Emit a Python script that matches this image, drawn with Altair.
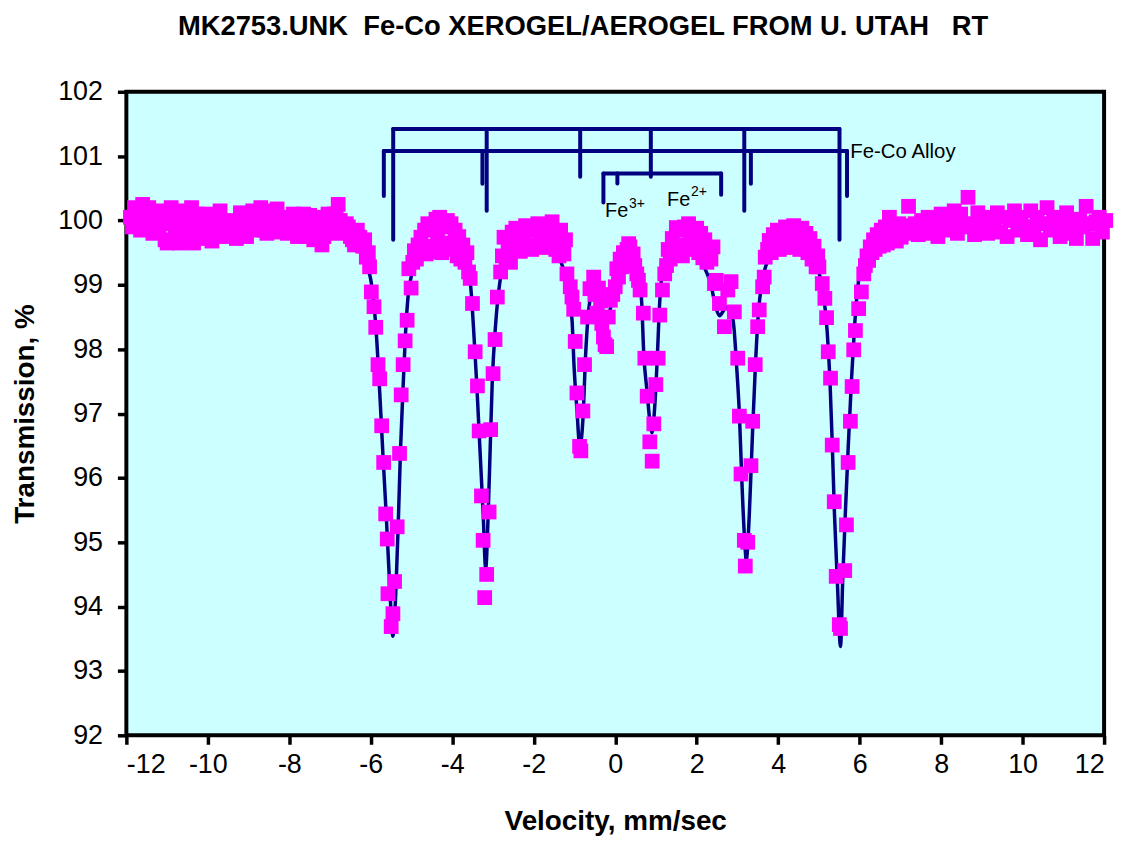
import altair as alt
import pandas as pd

# ---------------- measured data points (velocity mm/s, transmission %) ----------------
wing_left_v = [-11.9, -11.8, -11.7, -11.6, -11.5, -11.4, -11.3, -11.2, -11.1, -11.0,
               -10.9, -10.8, -10.7, -10.6, -10.5, -10.4, -10.3, -10.2, -10.1, -10.0,
               -9.9, -9.8, -9.7, -9.6, -9.5, -9.4, -9.3, -9.2, -9.1, -9.0,
               -8.9, -8.8, -8.7, -8.6, -8.5, -8.4, -8.3, -8.2, -8.1, -8.0,
               -7.9, -7.8, -7.7, -7.6, -7.5, -7.4, -7.3, -7.2, -7.1, -7.0,
               -6.9, -6.8, -6.7, -6.6, -6.5, -6.4]
wing_left_t = [100.05, 100.2, 99.95, 100.25, 100.1, 99.9, 100.0, 99.85, 100.15, 99.65,
               100.2, 99.85, 99.65, 100.05, 99.7, 100.2, 99.9, 100.0, 99.8, 100.1,
               99.68, 99.95, 100.15, 99.78, 99.9, 100.0, 99.72, 100.12, 99.8, 99.95,
               100.15, 99.9, 100.2, 99.85, 100.1, 99.95, 100.18, 99.82, 100.05, 99.9,
               100.1, 99.75, 100.0, 99.85, 100.08, 99.7, 99.95, 99.62, 100.0, 99.8,
               100.1, 100.25, 99.9, 99.95, 99.75, 99.62]

wing_left2_v = [-11.85, -11.75, -11.65, -11.55, -11.45, -11.35, -11.25, -11.15, -11.05, -10.95,
                -10.85, -10.75, -10.65, -10.55, -10.45, -10.35, -10.25, -10.15, -10.05, -9.95,
                -9.85, -9.75, -9.65, -9.55, -9.45, -9.35, -9.25, -9.15, -9.05, -8.95,
                -8.85, -8.75, -8.65, -8.55, -8.45, -8.35, -8.25, -8.15, -8.05, -7.95,
                -7.85, -7.75, -7.65, -7.55, -7.45, -7.35, -7.25, -7.15, -7.05, -6.95,
                -6.85, -6.75, -6.65, -6.55, -6.45]
wing_left2_t = [99.9, 100.1, 99.85, 100.0, 100.2, 99.8, 100.1, 99.95, 99.7, 99.95,
                100.1, 99.7, 99.9, 100.15, 99.85, 99.65, 100.1, 99.95, 99.72, 100.0,
                99.85, 99.75, 100.0, 99.95, 99.75, 99.9, 99.85, 100.0, 99.75, 99.88,
                100.05, 99.85, 100.0, 99.8, 100.15, 99.85, 100.0, 99.9, 99.8, 99.95,
                100.05, 99.85, 100.1, 99.75, 99.9, 100.05, 99.8, 99.75, 100.1, 99.85,
                100.1, 100.0, 99.8, 99.9, 99.7]

dip1_v = [-6.33, -6.27, -6.2, -6.15, -6.11, -6.06, -6.03, -5.987, -5.921, -5.879, -5.823,
          -5.782, -5.733, -5.684, -5.635, -5.596, -5.579, -5.499, -5.457,
          -5.416, -5.352, -5.294, -5.254, -5.206, -5.157, -5.108, -5.066, -5.010]
dip1_t = [99.85, 99.74, 99.6, 99.7, 99.43, 99.5, 99.28, 98.89, 98.66, 98.34, 97.76,
          97.54, 96.81, 96.24, 95.44, 95.05, 94.20, 93.69, 93.89,
          94.39, 95.24, 96.38, 97.29, 97.76, 98.13, 98.45, 99.25, 98.95]

hump12_v = [-4.97, -4.93, -4.88, -4.84, -4.80, -4.77, -4.72, -4.68, -4.64, -4.60, -4.55,
            -4.50, -4.45, -4.40, -4.36, -4.31, -4.26, -4.21, -4.16, -4.12, -4.07, -4.03,
            -3.98, -3.93, -3.88, -3.84, -3.79, -3.74, -3.69, -3.64, -3.60, -3.56]
hump12_t = [99.35, 99.53, 99.40, 99.62, 99.50, 99.74, 99.55, 99.85, 99.48, 99.95, 99.60,
            99.90, 99.52, 100.02, 99.75, 100.05, 99.50, 99.90, 99.65, 100.0, 99.55, 99.95,
            99.60, 99.85, 99.45, 99.75, 99.40, 99.62, 99.35, 99.50, 99.20, 99.10]

dip2_v = [-3.504, -3.438, -3.382, -3.340, -3.284, -3.243, -3.204, -3.155, -3.096, -3.057,
          -2.999, -2.950, -2.894, -2.813]
dip2_t = [98.71, 97.96, 97.43, 96.73, 95.72, 95.03, 94.14, 94.50, 95.47, 96.75,
          97.62, 98.15, 98.81, 99.20]

hump23_v = [-2.77, -2.73, -2.68, -2.63, -2.57, -2.53, -2.49, -2.44, -2.39, -2.33, -2.29,
            -2.24, -2.20, -2.15, -2.10, -2.05, -2.00, -1.95, -1.90, -1.85, -1.80, -1.75,
            -1.70, -1.65, -1.60, -1.55, -1.51, -1.46, -1.42, -1.38, -1.34, -1.30, -1.26, -1.22]
hump23_t = [99.45, 99.74, 99.40, 99.65, 99.35, 99.82, 99.55, 99.88, 99.60, 99.52, 99.85,
            99.70, 99.92, 99.60, 99.85, 99.55, 99.90, 99.62, 99.95, 99.70, 99.88, 99.58,
            99.80, 99.92, 99.70, 99.98, 99.80, 99.55, 99.75, 99.45, 99.85, 99.60, 99.48, 99.70]

dip3_v = [-1.185, -1.104, -1.062, -1.02, -0.982, -0.940, -0.875, -0.843, -0.794, -0.753, -0.679]
dip3_t = [99.17, 98.97, 98.81, 98.62, 98.12, 97.32, 96.49, 96.42, 97.04, 97.76, 98.50]

center_v = [-0.62, -0.53, -0.50, -0.45, -0.41, -0.36, -0.33, -0.29, -0.25, -0.21, -0.17,
            -0.12, -0.06, 0.0, 0.04, 0.08, 0.12, 0.16, 0.20, 0.24, 0.29, 0.33, 0.36, 0.40,
            0.44, 0.48, 0.53, 0.57, 0.61]
center_t = [98.94, 99.12, 98.85, 98.56, 98.95, 98.75, 98.40, 98.19, 98.07, 98.04, 98.50,
            98.76, 98.85, 98.97, 99.25, 99.12, 99.40, 99.28, 99.50, 99.48, 99.55, 99.64, 99.59, 99.45,
            99.48, 99.30, 99.17, 99.07, 98.92]

dip4_v = [0.69, 0.727, 0.785, 0.849, 0.907, 0.947, 0.996, 1.054, 1.093, 1.159, 1.215]
dip4_t = [98.56, 97.86, 97.27, 96.56, 96.26, 96.84, 97.45, 97.86, 98.53, 98.92, 99.17]

hump45_v = [1.26, 1.30, 1.35, 1.40, 1.45, 1.50, 1.55, 1.60, 1.65, 1.70, 1.75, 1.80,
            1.85, 1.90, 1.95, 2.00, 2.05, 2.10, 2.15, 2.20, 2.25, 2.30, 2.35, 2.40]
hump45_t = [99.30, 99.55, 99.40, 99.72, 99.50, 99.89, 99.60, 99.85, 99.45, 99.90, 99.62, 99.95,
            99.70, 99.85, 99.55, 99.88, 99.50, 99.80, 99.42, 99.70, 99.35, 99.55, 99.40, 99.59]

dip5_v = [2.436, 2.48, 2.558, 2.680, 2.763, 2.844, 2.924, 3.007, 3.047, 3.088, 3.169, 3.193,
          3.252, 3.332, 3.374, 3.437, 3.496, 3.535, 3.618, 3.657, 3.682]
dip5_t = [99.02, 99.07, 98.71, 98.35, 98.92, 99.05, 98.58, 97.86, 96.96, 96.06, 95.03, 94.63,
          95.00, 96.19, 96.88, 97.76, 98.35, 98.61, 98.97, 99.12, 99.43]

hump56_v = [3.74, 3.78, 3.83, 3.88, 3.93, 3.98, 4.03, 4.08, 4.13, 4.18, 4.23, 4.28, 4.33,
            4.38, 4.43, 4.48, 4.53, 4.58, 4.63, 4.68, 4.73, 4.78, 4.83, 4.88, 4.93, 4.97]
hump56_t = [99.55, 99.69, 99.50, 99.78, 99.60, 99.85, 99.55, 99.82, 99.65, 99.90, 99.58, 99.88, 99.68,
            99.92, 99.60, 99.85, 99.55, 99.88, 99.65, 99.80, 99.50, 99.72, 99.40, 99.60, 99.28, 99.45]

dip6_v = [5.00, 5.082, 5.146, 5.188, 5.229, 5.285, 5.327, 5.376, 5.424, 5.50, 5.530,
          5.634, 5.676, 5.717, 5.773, 5.815, 5.854, 5.896, 5.976, 6.042]
dip6_t = [99.28, 99.02, 98.79, 98.49, 97.96, 97.55, 96.51, 95.63, 94.47, 93.72, 93.66,
          94.56, 95.27, 96.24, 96.88, 97.42, 97.99, 98.29, 98.63, 98.89]

wing_right_v = [6.10, 6.14, 6.18, 6.22, 6.26, 6.30, 6.34, 6.38, 6.43, 6.48, 6.53, 6.58,
                6.63, 6.68, 6.73, 6.78, 6.84, 6.90, 6.96, 7.02, 7.10, 7.20, 7.28, 7.36,
                7.44, 7.52, 7.60, 7.68, 7.76, 7.84, 7.92, 8.00, 8.08, 8.16, 8.24, 8.32,
                8.40, 8.48, 8.56, 8.66, 8.74, 8.82, 8.90, 8.98, 9.06, 9.14, 9.22, 9.30,
                9.38, 9.46, 9.54, 9.62, 9.70, 9.80, 9.88, 9.96, 10.04, 10.12, 10.20, 10.28,
                10.36, 10.44, 10.52, 10.60, 10.68, 10.76, 10.84, 10.92, 11.00, 11.08, 11.16, 11.24,
                11.32, 11.40, 11.48, 11.56, 11.64, 11.72, 11.80, 11.88, 11.96, 12.04]
wing_right_t = [99.17, 99.30, 99.45, 99.38, 99.59, 99.50, 99.70, 99.55, 99.78, 99.60, 99.85, 99.62,
                99.90, 99.65, 100.05, 99.72, 99.90, 99.68, 99.95, 99.74, 99.92, 100.22, 99.80, 99.95,
                99.78, 100.0, 99.85, 100.05, 99.80, 99.98, 99.75, 100.1, 99.85, 100.05, 99.90, 100.15,
                99.80, 100.1, 99.90, 100.36, 99.95, 99.78, 100.12, 99.85, 100.05, 99.80, 100.0, 99.88,
                100.12, 99.82, 100.05, 99.75, 100.0, 100.15, 99.85, 100.05, 99.90, 99.78, 100.15, 99.90,
                100.05, 99.70, 99.95, 100.2, 99.85, 100.05, 99.90, 99.75, 100.0, 100.12, 99.80, 99.95,
                99.72, 100.02, 99.90, 100.22, 99.95, 99.72, 99.98, 100.05, 99.82, 100.0]

# ---------------- fitted curve ----------------
fit_v = [-11.9, -10.0, -8.5, -7.5, -7.0, -6.6, -6.35, -6.2, -6.1, -6.0, -5.93, -5.865, -5.78,
         -5.70, -5.62, -5.54, -5.457, -5.376, -5.32, -5.27, -5.21, -5.147, -5.08, -5.0, -4.85,
         -4.6, -4.3, -4.0, -3.8, -3.66, -3.56, -3.48, -3.40, -3.32, -3.24, -3.18, -3.12, -3.07,
         -3.02, -2.94, -2.83, -2.7, -2.4, -2.0, -1.7, -1.5, -1.35, -1.25, -1.185, -1.06, -1.01,
         -0.94, -0.87, -0.78, -0.74, -0.68, -0.6, -0.47, -0.35, -0.22, -0.08, 0.12, 0.35, 0.5,
         0.58, 0.647, 0.70, 0.785, 0.85, 0.905, 0.97, 1.03, 1.09, 1.16, 1.3, 1.6, 1.9, 2.15,
         2.35, 2.47, 2.56, 2.66, 2.76, 2.86, 2.92, 2.97, 3.05, 3.11, 3.19, 3.215, 3.29, 3.37,
         3.44, 3.52, 3.6, 3.7, 3.9, 4.2, 4.5, 4.75, 4.9, 5.0, 5.12, 5.20, 5.27, 5.33, 5.38,
         5.45, 5.53, 5.585, 5.65, 5.72, 5.80, 5.88, 5.98, 6.1, 6.3, 6.6, 7.0, 8.0, 10.0, 12.0]
fit_t = [99.99, 99.98, 99.96, 99.92, 99.87, 99.77, 99.62, 99.48, 99.3, 99.08, 98.75, 98.25, 97.32,
         96.34, 95.41, 94.38, 93.54, 94.38, 95.41, 96.44, 97.37, 98.25, 98.85, 99.15, 99.42,
         99.6, 99.66, 99.62, 99.48, 99.28, 99.05, 98.35, 97.47, 96.44, 95.41, 94.59, 95.41, 96.44,
         97.47, 98.35, 99.05, 99.38, 99.6, 99.68, 99.65, 99.55, 99.38, 99.2, 99.0, 98.45, 97.73,
         97.06, 96.49, 97.06, 97.73, 98.40, 98.82, 98.98, 98.72, 98.46, 98.72, 99.12, 99.33, 99.28,
         99.08, 98.76, 97.94, 97.32, 96.88, 96.70, 97.11, 97.83, 98.71, 99.2, 99.45, 99.56, 99.5, 99.32,
         99.0, 98.65, 98.52, 98.6, 98.66, 98.55, 98.3, 97.83, 96.96, 95.93, 94.90, 94.72, 95.41, 96.70,
         97.73, 98.61, 99.02, 99.3, 99.5, 99.62, 99.6, 99.48, 99.35, 99.2, 98.81, 98.30, 97.53, 96.49, 95.47,
         94.43, 93.38, 94.43, 95.47, 96.49, 97.53, 98.40, 99.10, 99.45, 99.66, 99.8, 99.88, 99.95, 99.98, 99.99]

# ---------------- stick diagrams (start v, end v, start T, end T) ----------------
stick_v1 = [-5.45, -5.45, -3.155, -0.86, 0.874, 3.168, 5.505,
            -5.68, -5.68, -3.26, 3.33, 5.69,
            -0.29, -0.29, 0.053, 2.60]
stick_v2 = [5.505, -5.45, -3.155, -0.86, 0.874, 3.168, 5.505,
            5.69, -5.68, -3.26, 3.33, 5.69,
            2.60, -0.29, 0.053, 2.60]
stick_t1 = [101.42, 101.42, 101.42, 101.42, 101.42, 101.42, 101.42,
            101.08, 101.08, 101.08, 101.08, 101.08,
            100.73, 100.73, 100.73, 100.73]
stick_t2 = [101.42, 99.70, 100.15, 100.68, 100.68, 100.15, 99.70,
            101.08, 100.38, 100.57, 100.57, 100.38,
            100.73, 100.28, 100.575, 100.40]

# ---------------- annotations ----------------
TITLE = "MK2753.UNK\u00a0\u00a0Fe-Co XEROGEL/AEROGEL FROM U. UTAH\u00a0\u00a0\u00a0RT"
label_text = ["Fe-Co Alloy", "Fe", "3+", "Fe", "2+"]
label_v = [5.77, -0.25, 0.34, 1.274, 1.86]
label_t = [100.97, 100.06, 100.20, 100.23, 100.38]
label_size = [20.5, 20, 14, 20, 14]

title_v = [-0.79]
title_t = [102.89]

FONT = "Liberation Sans, Arial, Helvetica, sans-serif"

# ---------------- tables ----------------
segments = [(wing_left_v, wing_left_t), (wing_left2_v, wing_left2_t), (dip1_v, dip1_t),
            (hump12_v, hump12_t), (dip2_v, dip2_t), (hump23_v, hump23_t), (dip3_v, dip3_t),
            (center_v, center_t), (dip4_v, dip4_t), (hump45_v, hump45_t),
            (dip5_v, dip5_t), (hump56_v, hump56_t), (dip6_v, dip6_t),
            (wing_right_v, wing_right_t)]
rows = []
for vs, ts in segments:
    rows.extend(zip(vs, ts))
points = pd.DataFrame(rows, columns=["v", "t"])
fit = pd.DataFrame(list(zip(fit_v, fit_t)), columns=["v", "t"])
sticks = pd.DataFrame(list(zip(stick_v1, stick_v2, stick_t1, stick_t2)),
                      columns=["v", "v2", "t", "t2"])
labels = pd.DataFrame(list(zip(label_text, label_v, label_t, label_size)),
                      columns=["label", "v", "t", "fs"])
title_df = pd.DataFrame({"label": [TITLE], "v": title_v, "t": title_t})

xs = alt.Scale(domain=[-12, 12], nice=False, zero=False)
ys = alt.Scale(domain=[92, 102], nice=False, zero=False)

x_axis = alt.Axis(values=list(range(-12, 13, 2)), title="Velocity, mm/sec",
                  labelExpr="'' + datum.value",
                  labelPadding=7, titleX=491.5, titleY=95, titleBaseline="alphabetic",
                  titleAlign="center")
y_axis = alt.Axis(values=list(range(92, 103)), title="Transmission, %",
                  labelExpr="'' + datum.value",
                  labelPadding=15, titleX=-93, titleY=323.5, titleAngle=270,
                  titleBaseline="alphabetic", titleAlign="center")

X = alt.X("v:Q", scale=xs, axis=x_axis)
Y = alt.Y("t:Q", scale=ys, axis=y_axis)

stick_layer = alt.Chart(sticks).mark_rule(color="#000080", strokeWidth=4, strokeCap="round").encode(
    x=X, x2="v2:Q", y=Y, y2="t2:Q")
fit_layer = alt.Chart(fit).mark_line(color="#000080", strokeWidth=3.5, interpolate="monotone").encode(
    x=X, y=Y, order="v:Q")
point_layer = alt.Chart(points).mark_square(size=220, color="#FF00FF", opacity=1, filled=True).encode(
    x=X, y=Y)
label_layer = alt.Chart(labels).mark_text(align="left", baseline="alphabetic", font=FONT,
                                          color="black").encode(
    x=X, y=Y, text="label:N", size=alt.Size("fs:Q", scale=None, legend=None))
title_layer = alt.Chart(title_df).mark_text(align="center", baseline="alphabetic", font=FONT,
                                            fontSize=27.5, fontWeight="bold", color="black").encode(
    x=X, y=Y, text="label:N")

chart = alt.layer(stick_layer, fit_layer, point_layer, label_layer, title_layer).properties(
    width=983, height=647,
    padding={"left": 119, "top": 82, "right": 16, "bottom": 101},
    autosize=alt.AutoSizeParams(type="none"),
).configure_view(
    fill="#CCFFFF", stroke="black", strokeWidth=4
).configure_axis(
    domain=False, grid=False, ticks=True, tickSize=9, tickWidth=3.5, tickColor="black",
    labelFont=FONT, labelFontSize=27, labelColor="black",
    titleFont=FONT, titleFontSize=28, titleFontWeight="bold", titleColor="black"
)

chart.save("out.html", embed_options={"renderer": "svg", "actions": False})
